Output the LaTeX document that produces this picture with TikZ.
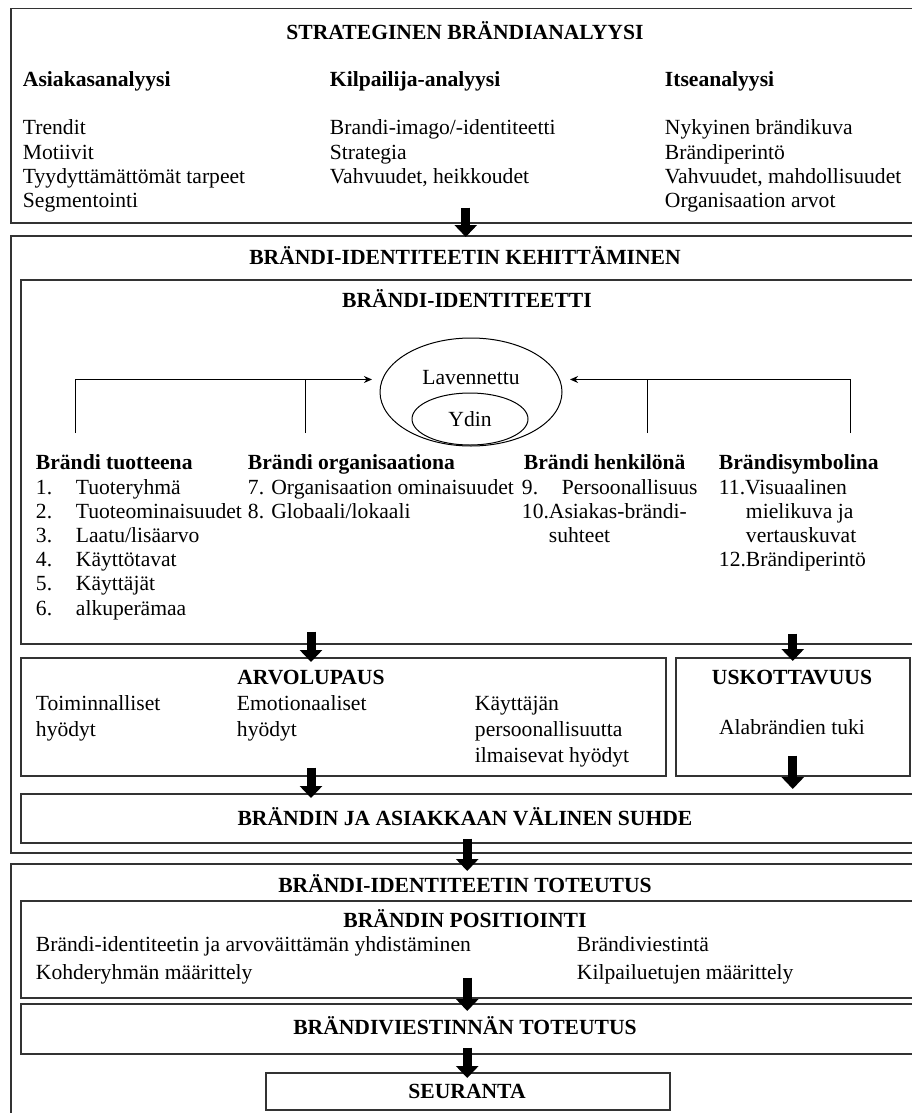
\documentclass[tikz,border=0pt]{standalone}
\usepackage{fontspec}
\setmainfont{Liberation Serif}
\usepackage{tikz}
\usetikzlibrary{arrows.meta,shapes.geometric}

\newcommand{\fsz}{\fontsize{21.6}{24}\selectfont}

\tikzset{
  box/.style={draw=black!80, line width=1.5pt, anchor=north west, inner sep=0pt},
  txt/.style={anchor=base west, inner sep=0.75pt, font=\fsz},
  hd/.style={anchor=base west, inner sep=0.75pt, font=\fsz\bfseries},
  ttl/.style={anchor=base, inner sep=0.75pt, font=\fsz\bfseries},
  ctr/.style={anchor=base, inner sep=0.75pt, font=\fsz},
  blk/.style={line width=9pt, -{Triangle[width=22pt,length=12pt]}},
  thinarrow/.style={line width=1pt, -{Stealth[length=8pt,width=7pt]}},
}

\begin{document}
\begin{tikzpicture}[x=1pt,y=1pt,yscale=-1,xscale=1]
\useasboundingbox (0,0) rectangle (912,1113);
\clip (0,0) rectangle (912,1113);

% boxes
\draw (10,8) node [box, minimum width=910pt, minimum height=214pt] (strat) {};
\draw (10,235) node [box, minimum width=910pt, minimum height=617pt] (keh) {};
\draw (20,279) node [box, minimum width=893pt, minimum height=364pt] (ident) {};
\draw (20,657) node [box, minimum width=645pt, minimum height=118pt] (arvo) {};
\draw (675,657) node [box, minimum width=234pt, minimum height=118pt] (usk) {};
\draw (20,793) node [box, minimum width=893pt, minimum height=49pt] (suhde) {};
\draw (10,863) node [box, minimum width=910pt, minimum height=300pt] (tot) {};
\draw (20,900) node [box, minimum width=893pt, minimum height=97pt] (pos) {};
\draw (20,1003) node [box, minimum width=893pt, minimum height=50pt] (viest) {};
\draw (265,1072) node [box, minimum width=404pt, minimum height=37pt] (seur) {};

% strateginen brandianalyysi
\draw (465,40) node [ttl] (strattitle) {STRATEGINEN BRÄNDIANALYYSI};
\draw (22,87) node [hd] (asiakas) {Asiakasanalyysi};
\draw (329,87) node [hd] (kilp) {Kilpailija-analyysi};
\draw (664,87) node [hd] (itse) {Itseanalyysi};
\draw (22,135) node [txt] (as1) {Trendit};
\draw (22,159) node [txt] (as2) {Motiivit};
\draw (22,183) node [txt] (as3) {Tyydyttämättömät tarpeet};
\draw (22,207) node [txt] (as4) {Segmentointi};
\draw (329,135) node [txt] (ki1) {Brandi-imago/-identiteetti};
\draw (329,159) node [txt] (ki2) {Strategia};
\draw (329,183) node [txt] (ki3) {Vahvuudet, heikkoudet};
\draw (664,135) node [txt] (it1) {Nykyinen brändikuva};
\draw (664,159) node [txt] (it2) {Brändiperintö};
\draw (664,183) node [txt] (it3) {Vahvuudet, mahdollisuudet};
\draw (664,207) node [txt] (it4) {Organisaation arvot};

% brandi-identiteetin kehittaminen
\draw (465,264) node [ttl] (kehtitle) {BRÄNDI-IDENTITEETIN KEHITTÄMINEN};
\draw (467,307) node [ttl] (identtitle) {BRÄNDI-IDENTITEETTI};
\draw (471,392) node [draw, line width=1pt, ellipse, minimum width=182pt, minimum height=108pt] (lav) {};
\draw (470,419) node [draw, line width=1pt, ellipse, minimum width=116pt, minimum height=52pt, font=\fsz] (ydin) {Ydin};
\draw (471,384) node [ctr] (lavtxt) {Lavennettu};
\coordinate (prodtop) at (75,433);
\coordinate (orgtop) at (305,433);
\coordinate (perstop) at (647,433);
\coordinate (symbtop) at (850,433);
\draw [thinarrow, shorten >=10pt] (prodtop) |- (lav.172);
\draw [line width=1pt] (orgtop) -- (orgtop |- lav.172);
\draw [thinarrow, shorten >=10pt] (symbtop) |- (lav.8);
\draw [line width=1pt] (perstop) -- (perstop |- lav.8);

\draw (35,469) node [hd] (prod) {Brändi tuotteena};
\draw (247,469) node [hd] (org) {Brändi organisaationa};
\draw (523,469) node [hd] (pers) {Brändi henkilönä};
\draw (718,469) node [hd] (symb) {Brändisymbolina};
\draw (35,494) node [txt] (n1) {1.};
\draw (75,494) node [txt] (p1) {Tuoteryhmä};
\draw (35,518) node [txt] (n2) {2.};
\draw (75,518) node [txt] (p2) {Tuoteominaisuudet};
\draw (35,542) node [txt] (n3) {3.};
\draw (75,542) node [txt] (p3) {Laatu/lisäarvo};
\draw (35,566) node [txt] (n4) {4.};
\draw (75,566) node [txt] (p4) {Käyttötavat};
\draw (35,590) node [txt] (n5) {5.};
\draw (75,590) node [txt] (p5) {Käyttäjät};
\draw (35,615) node [txt] (n6) {6.};
\draw (75,615) node [txt] (p6) {alkuperämaa};
\draw (247,494) node [txt] (o1) {7. Organisaation ominaisuudet};
\draw (247,518) node [txt] (o2) {8. Globaali/lokaali};
\draw (521,494) node [txt] (n9) {9.};
\draw (561,494) node [txt] (h1) {Persoonallisuus};
\draw (521,518) node [txt] (h2) {10.Asiakas-brändi-};
\draw (548,542) node [txt] (h3) {suhteet};
\draw (718,494) node [txt] (s1) {11.Visuaalinen};
\draw (745,518) node [txt] (s2) {mielikuva ja};
\draw (745,542) node [txt] (s3) {vertauskuvat};
\draw (718,566) node [txt] (s4) {12.Brändiperintö};

% arvolupaus, uskottavuus
\coordinate (cl) at (311,0);
\draw (311,684) node [ttl] (arvotitle) {ARVOLUPAUS};
\draw (35,710) node [txt] (ar1) {Toiminnalliset};
\draw (35,736) node [txt] (ar2) {hyödyt};
\draw (236,710) node [txt] (ar3) {Emotionaaliset};
\draw (236,736) node [txt] (ar4) {hyödyt};
\draw (474,710) node [txt] (ar5) {Käyttäjän};
\draw (474,736) node [txt] (ar6) {persoonallisuutta};
\draw (474,762) node [txt] (ar7) {ilmaisevat hyödyt};
\draw (792,684) node [ttl] (usktitle) {USKOTTAVUUS};
\draw (792,734) node [ctr] (usk1) {Alabrändien tuki};
\draw (465,825) node [ttl] (suhdetitle) {BRÄNDIN JA ASIAKKAAN VÄLINEN SUHDE};

% toteutus
\draw (465,892) node [ttl] (tottitle) {BRÄNDI-IDENTITEETIN TOTEUTUS};
\draw (465,927) node [ttl] (postitle) {BRÄNDIN POSITIOINTI};
\draw (35,951) node [txt] (po1) {Brändi-identiteetin ja arvoväittämän yhdistäminen};
\draw (35,979) node [txt] (po2) {Kohderyhmän määrittely};
\draw (576,951) node [txt] (po3) {Brändiviestintä};
\draw (576,979) node [txt] (po4) {Kilpailuetujen määrittely};
\draw (465,1034) node [ttl] (viesttitle) {BRÄNDIVIESTINNÄN TOTEUTUS};
\draw (467,1098) node [ttl] (seurtitle) {SEURANTA};

% block arrows
\draw [blk, shorten <=-16pt, shorten >=-2pt] (strat.south) -- (keh.north);
\draw [blk, shorten <=-13pt, shorten >=-5pt] (ident.south -| cl) -- (arvo.north -| cl);
\draw [blk, shorten <=-11pt, shorten >=-4pt] (ident.south -| usk.north) -- (usk.north);
\draw [blk, shorten <=-9pt, shorten >=-5pt] (arvo.south -| cl) -- (suhde.north -| cl);
\draw [blk, shorten <=-21pt, shorten >=4pt] (usk.south) -- (usk.south |- suhde.north);
\draw [blk, shorten <=-5pt, shorten >=-8pt] (suhde.south) -- (suhde.south |- tot.north);
\draw [blk, shorten <=-21pt, shorten >=-8pt] (pos.south) -- (pos.south |- viest.north);
\draw [blk, shorten <=-7pt, shorten >=-6pt] (viest.south) -- (viest.south |- seur.north);
\end{tikzpicture}
\end{document}
